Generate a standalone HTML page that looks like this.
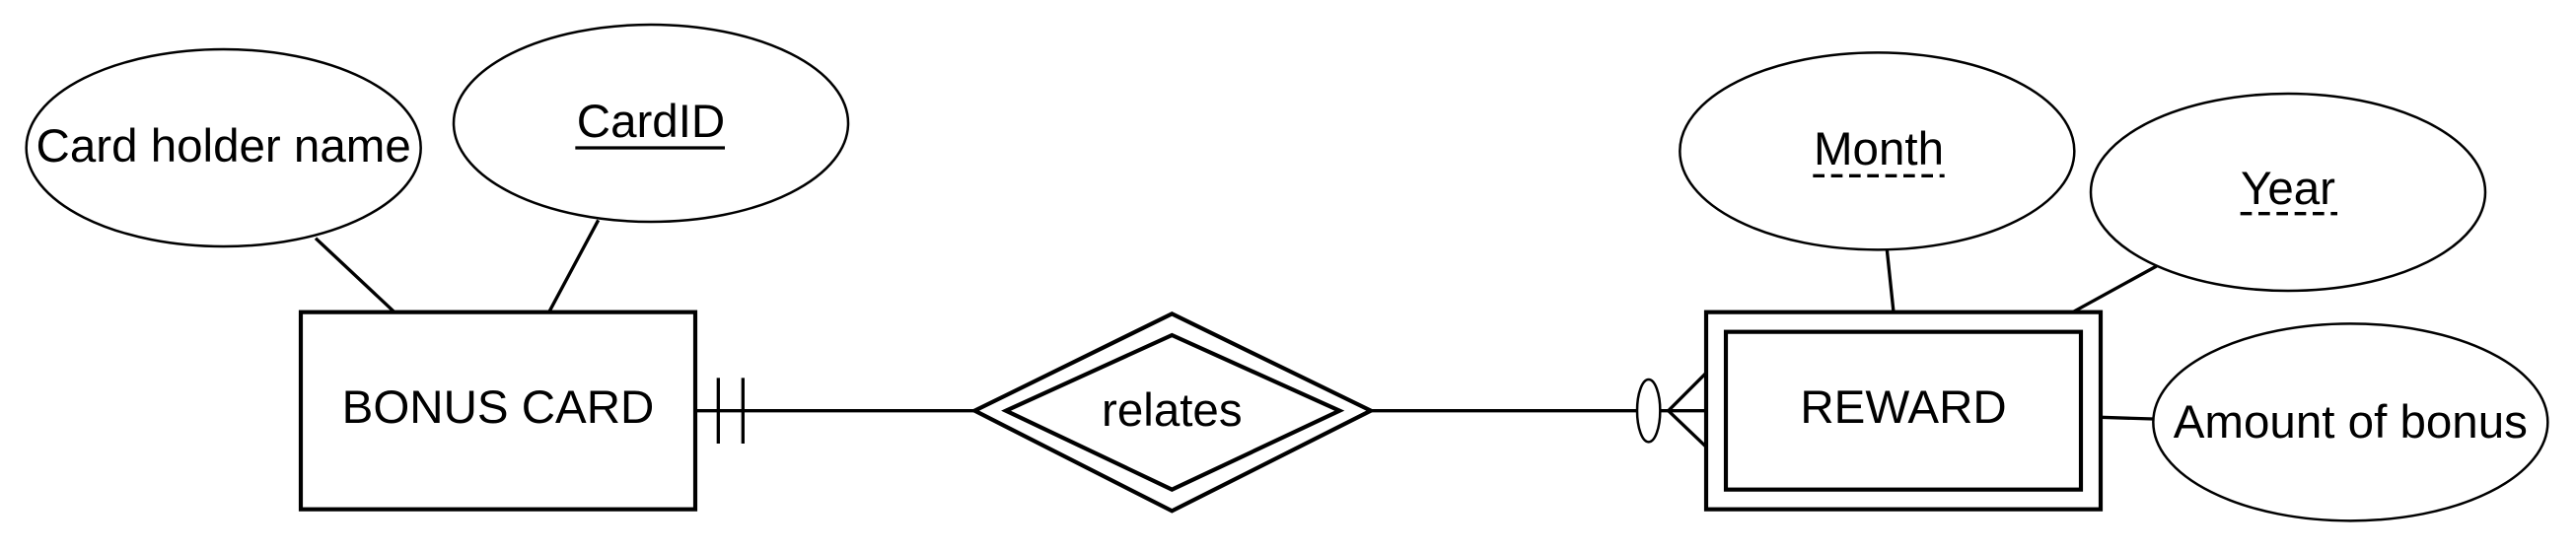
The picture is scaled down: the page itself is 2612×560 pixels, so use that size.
<!DOCTYPE html>
<html><head><meta charset="utf-8"><style>
html,body{margin:0;padding:0;background:#fff;width:2612px;height:560px;overflow:hidden}
svg{display:block}
text{font-family:"Liberation Sans",Arial,sans-serif;font-size:28.5px;fill:#000;text-anchor:middle;dominant-baseline:central}
</style></head><body>
<svg width="2612" height="560" viewBox="0 0 1567.2 336" xmlns="http://www.w3.org/2000/svg">
<g fill="none" stroke="#000">
 <line x1="192" y1="145" x2="240" y2="190" stroke-width="2"/>
 <line x1="364" y1="134" x2="334" y2="190" stroke-width="2"/>
 <line x1="1148" y1="152" x2="1152" y2="190" stroke-width="2"/>
 <line x1="1312" y1="162" x2="1261" y2="190" stroke-width="2"/>
 <line x1="1278" y1="254" x2="1310" y2="255" stroke-width="2"/>
 <line x1="423" y1="250" x2="593" y2="250" stroke-width="2"/>
 <line x1="437" y1="230" x2="437" y2="270" stroke-width="2"/>
 <line x1="452" y1="230" x2="452" y2="270" stroke-width="2"/>
 <line x1="834" y1="250" x2="996" y2="250" stroke-width="2"/>
 <g stroke-width="2">
  <line x1="1015" y1="250" x2="1038" y2="227"/>
  <line x1="1010" y1="250" x2="1038" y2="250"/>
  <line x1="1015" y1="250" x2="1038" y2="272"/>
 </g>
 <ellipse cx="1003" cy="250" rx="7" ry="19" fill="#fff" stroke-width="1.5"/>
 <ellipse cx="136" cy="90" rx="120" ry="60" fill="#fff" stroke-width="1.5"/>
 <ellipse cx="396" cy="75" rx="120" ry="60" fill="#fff" stroke-width="1.5"/>
 <ellipse cx="1142" cy="92" rx="120" ry="60" fill="#fff" stroke-width="1.5"/>
 <ellipse cx="1392" cy="117" rx="120" ry="60" fill="#fff" stroke-width="1.5"/>
 <ellipse cx="1430" cy="257" rx="120" ry="60" fill="#fff" stroke-width="1.5"/>
 <rect x="183" y="190" width="240" height="120" fill="#fff" stroke-width="2.5"/>
 <rect x="1038" y="190" width="240" height="120" fill="#fff" stroke-width="2.5"/>
 <rect x="1050" y="202" width="216" height="96" fill="none" stroke-width="2.5"/>
 <polygon points="593,250 713,191 834,250 713,311" fill="#fff" stroke-width="2.5"/>
 <polygon points="612,250 713,204 815,250 713,298" stroke-width="2.5"/>
 <line x1="350" y1="90" x2="441" y2="90" stroke-width="2"/>
 <line x1="1103" y1="107" x2="1183" y2="107" stroke-width="2" stroke-dasharray="7,4"/>
 <line x1="1363" y1="130" x2="1422" y2="130" stroke-width="2" stroke-dasharray="7,4"/>
</g>
<text x="136" y="89">Card holder name</text>
<text x="396" y="74">CardID</text>
<text x="303" y="248">BONUS CARD</text>
<text x="713" y="250">relates</text>
<text x="1158" y="248">REWARD</text>
<text x="1143" y="91">Month</text>
<text x="1392" y="115">Year</text>
<text x="1430" y="257">Amount of bonus</text>
</svg>
</body></html>
